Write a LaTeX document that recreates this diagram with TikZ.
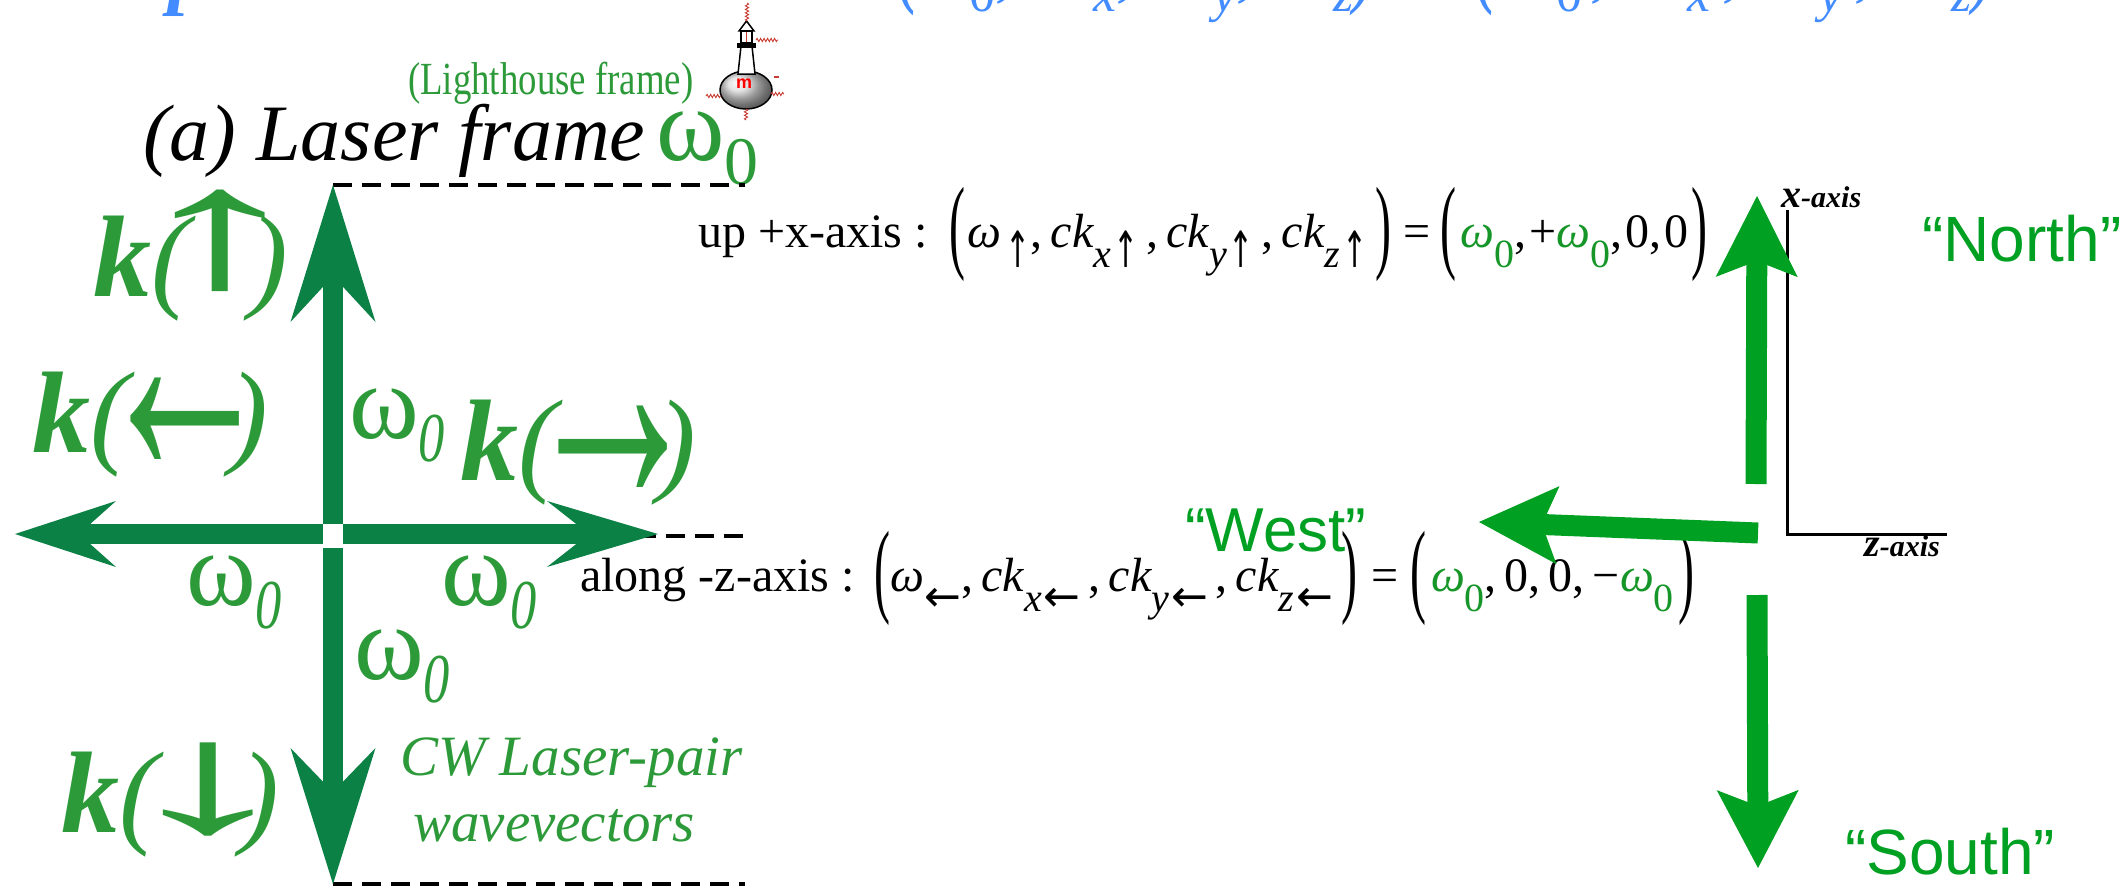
\documentclass[tikz,border=0pt]{standalone}
\usepackage{fontspec}
\setmainfont{Liberation Serif}
\newfontfamily\sansfont{Liberation Sans}
\newfontfamily\arrowfont{DejaVu Sans}
\newfontfamily\glyphfont{Liberation Serif}
\usepackage{graphicx}
\usetikzlibrary{arrows.meta,decorations.pathmorphing}

\definecolor{crossgreen}{RGB}{11,129,70}
\definecolor{labelgreen}{RGB}{45,154,58}
\definecolor{compassgreen}{RGB}{0,160,34}
\definecolor{eqgreen}{RGB}{22,150,40}
\definecolor{headblue}{RGB}{66,140,255}
\definecolor{wirered}{RGB}{200,60,50}

\newcommand\fs[1]{\fontsize{#1}{#1}\selectfont}
% equation pieces
\newcommand\esub[1]{\raisebox{-20pt}{\fs{40}#1}}
\newcommand\lpar{\raisebox{-12.5pt}{\scalebox{1}[2.17]{(}}}
\newcommand\rpar{\raisebox{-12.5pt}{\scalebox{1}[2.17]{)}}}
\newcommand\gw{\textcolor{eqgreen}{\itshape ω\esub{\upshape 0}}}
\newcommand\uarr{\scalebox{0.6}[1]{\arrowfont\fs{50}↑}}
\newcommand\larr{{\arrowfont\fs{44}←}}
\newcommand\ckg[2]{,\hspace{8pt}{\itshape ck}\esub{{\itshape #1}\hspace{2pt}#2}\hspace{8pt}}
% heading line pieces
\newcommand\tsub[1]{\raisebox{-18pt}{\fs{52}#1}}
\newcommand\tlpar{\scalebox{1}[1.5]{(}}
\newcommand\trpar{\scalebox{1}[1.5]{)}}
% wavevector labels: box width, shift, x scale, y scale, raise, glyph
\newcommand\klab[1]{{\bfseries\itshape k}{\itshape(}#1{\itshape)}}
\newcommand\kglyph[6]{\makebox[#1pt][c]{\hspace{#2pt}\raisebox{#5pt}{\scalebox{#3}[#4]{\glyphfont #6}}}}
\newcommand\wlab{{\fs{106}ω}\raisebox{-23pt}{\fs{70}\itshape\scalebox{0.75}[1]{0}}}

\tikzset{
  cross/.style={draw=crossgreen, line width=20pt},
  compass/.style={draw=compassgreen, line width=21pt},
  dashline/.style={draw=black, line width=3.5pt, dash pattern=on 19pt off 10pt},
  txt/.style={inner sep=0pt, anchor=base west},
  wire/.style={draw=wirered, line width=0.9pt, decorate,
    decoration={snake, amplitude=1.6pt, segment length=3.5pt}},
}

\begin{document}
\begin{tikzpicture}[x=1pt,y=-1pt]
\useasboundingbox (0,0) rectangle (2124,891);
\clip (0,0) rectangle (2124,891);
\fill[white] (0,0) rectangle (2124,891);

% ---------- heading line, mostly above the frame ----------
\node[txt, headblue] (ptop) at (168,0) {\fs{80}\bfseries\itshape p};
\node[txt, headblue] (topeq) at (897,-6) {\fs{70}\itshape
  \tlpar ω\tsub{\upshape 0}, ck\tsub{x}, ck\tsub{y}, ck\tsub{z}\trpar\,=\hspace{22pt}
  \tlpar ω\hspace{8pt}\tsub{\upshape 0}\hspace{8pt}, ck\tsub{x}\hspace{12pt}, ck\tsub{y}\hspace{12pt}, ck\tsub{z}\trpar};

% ---------- lighthouse ----------
\shade[ball color=gray!30, draw=black, line width=1.5pt] (746,90) ellipse [x radius=26, y radius=19];
\filldraw[fill=white, draw=black, line width=1.5pt] (738,74) -- (741,46) -- (752,46) -- (755,74) -- cycle;
\fill[black] (737,43) rectangle (756,48);
\filldraw[fill=white, draw=black, line width=1.5pt] (741,31) rectangle (752,43);
\draw[wirered, line width=1.5pt] (746.5,32) -- (746.5,42);
\filldraw[fill=white, draw=black, line width=1.5pt] (739,31) -- (746.5,21) -- (754,31) -- cycle;
\node[text=red, font=\sansfont\bfseries, inner sep=0pt] (mark) at (744,84) {\fs{18}m};
\coordinate (wt1) at (747,3);   \coordinate (wt2) at (747,21);
\coordinate (wr1) at (756,40);  \coordinate (wr2) at (778,40);
\coordinate (wl1) at (706,96);  \coordinate (wl2) at (721,96);
\coordinate (wq1) at (771,94);  \coordinate (wq2) at (784,94);
\coordinate (wb1) at (746,109); \coordinate (wb2) at (746,120);
\draw[wire] (wt1) -- (wt2);
\draw[wire] (wr1) -- (wr2);
\draw[wire] (wl1) -- (wl2);
\draw[wire] (wq1) -- (wq2);
\draw[wire] (wb1) -- (wb2);
\draw[wirered, line width=2pt] (774,77) -- (779,77);

% ---------- titles ----------
\node[txt, labelgreen] (lh) at (408,94) {\fs{46}\scalebox{0.8}[1]{(Lighthouse frame)}};
\node[txt] (title) at (143,160) {\fs{80}\itshape (a) Laser frame};
\node[txt, labelgreen] (titlew) at (656,160) {\fs{104}ω\raisebox{-24pt}{\fs{68}0}};

% ---------- dashed guides ----------
\coordinate (d1a) at (333,185); \coordinate (d1b) at (745,185);
\coordinate (d2a) at (637,536); \coordinate (d2b) at (745,536);
\coordinate (d3a) at (333,884); \coordinate (d3b) at (745,884);
\draw[dashline] (d1a) -- (d1b);
\draw[dashline] (d2a) -- (d2b);
\draw[dashline] (d3a) -- (d3b);

% ---------- laser-pair cross ----------
\coordinate (cU) at (333,524);  \coordinate (tU) at (333,185);
\coordinate (cD) at (333,548);  \coordinate (tD) at (333,884);
\coordinate (cL) at (323,534);  \coordinate (tL) at (15,534);
\coordinate (cR) at (343,534);  \coordinate (tR) at (658,534);
\draw[cross, -{Stealth[length=137pt,width=85pt,inset=46pt,line width=0pt]}] (cU) -- (tU);
\draw[cross, -{Stealth[length=136pt,width=85pt,inset=44pt,line width=0pt]}] (cD) -- (tD);
\draw[cross, -{Stealth[length=101pt,width=66pt,inset=37pt,line width=0pt]}] (cL) -- (tL);
\draw[cross, -{Stealth[length=111pt,width=66pt,inset=42pt,line width=0pt]}] (cR) -- (tR);

% ---------- wavevector labels ----------
\begin{scope}[every node/.style={txt, labelgreen}]
\node (kup) at (93,296)  {\fs{116}\klab{\kglyph{60}{0}{3.3}{1.48}{10}{↑}}};
\node (kleft) at (32,452) {\fs{116}\klab{\kglyph{101}{11}{1.58}{3.0}{-24}{←}}};
\node (kright) at (460,480) {\fs{116}\klab{\kglyph{101}{11}{1.58}{3.0}{-24}{→}}};
\node (kdown) at (61,832) {\fs{116}\klab{\kglyph{83}{17}{3.3}{1.36}{1}{↓}}};
\node (w1) at (349,438) {\wlab};
\node (w2) at (186,605) {\wlab};
\node (w3) at (441,605) {\wlab};
\node (w4) at (354,679) {\wlab};
\node (cw1) at (400,775) {\fs{57}\itshape CW Laser-pair};
\node (cw2) at (413,841) {\fs{57}\itshape wavevectors};
\end{scope}

% ---------- 4-vector equations ----------
\node[txt] (equp) at (698,247) {\fs{48}up +x-axis :\hspace{22pt}\lpar\hspace{2pt}{\itshape ω}\hspace{4pt}\esub{\uarr}\ckg{x}{\uarr}\ckg{y}{\uarr}\ckg{z}{\uarr}\rpar\hspace{12pt}=\hspace{10pt}\lpar\hspace{4pt}\gw,\hspace{3pt}+\gw,\hspace{3pt}0,\hspace{3pt}0\hspace{3pt}\rpar};
\node[txt] (eqleft) at (580,591) {\fs{48}along -z-axis :\hspace{20pt}\lpar{\itshape ω}\esub{\larr}\ckg{x}{\larr}\ckg{y}{\larr}\ckg{z}{\larr}\rpar\hspace{14pt}=\hspace{12pt}\lpar\hspace{5pt}\gw,\hspace{8pt}0,\hspace{8pt}0,\hspace{8pt}−\gw\hspace{5pt}\rpar};

% ---------- compass frame ----------
\coordinate (O) at (1787,534);
\coordinate (xend) at (1787,210);
\coordinate (zend) at (1947,534);
\draw[black, line width=3pt] (xend) -- (O) -- (zend);
\node[txt] (xlab) at (1781,207) {\bfseries\itshape\fs{40}x\fs{30}-axis};
\node[txt] (zlab) at (1864,556) {\bfseries\itshape\fs{40}z\fs{30}-axis};

\coordinate (nS) at (1756,484); \coordinate (nT) at (1757,196);
\coordinate (wS) at (1758,533); \coordinate (wT) at (1479,522);
\coordinate (sS) at (1757,595); \coordinate (sT) at (1758,868);
\draw[compass, -{Stealth[length=81pt,width=82pt,inset=16pt,line width=0pt]}] (nS) -- (nT);
\draw[compass, -{Stealth[length=79pt,width=78pt,inset=16pt,line width=0pt]}] (wS) -- (wT);
\draw[compass, -{Stealth[length=78pt,width=82pt,inset=16pt,line width=0pt]}] (sS) -- (sT);

\node[txt, compassgreen, font=\sansfont] (north) at (1922,261) {\fs{64}“North”};
\node[txt, compassgreen, font=\sansfont] (west) at (1185,551) {\fs{62}“West”};
\node[txt, compassgreen, font=\sansfont] (south) at (1845,874) {\fs{64}“South”};
\end{tikzpicture}
\end{document}
